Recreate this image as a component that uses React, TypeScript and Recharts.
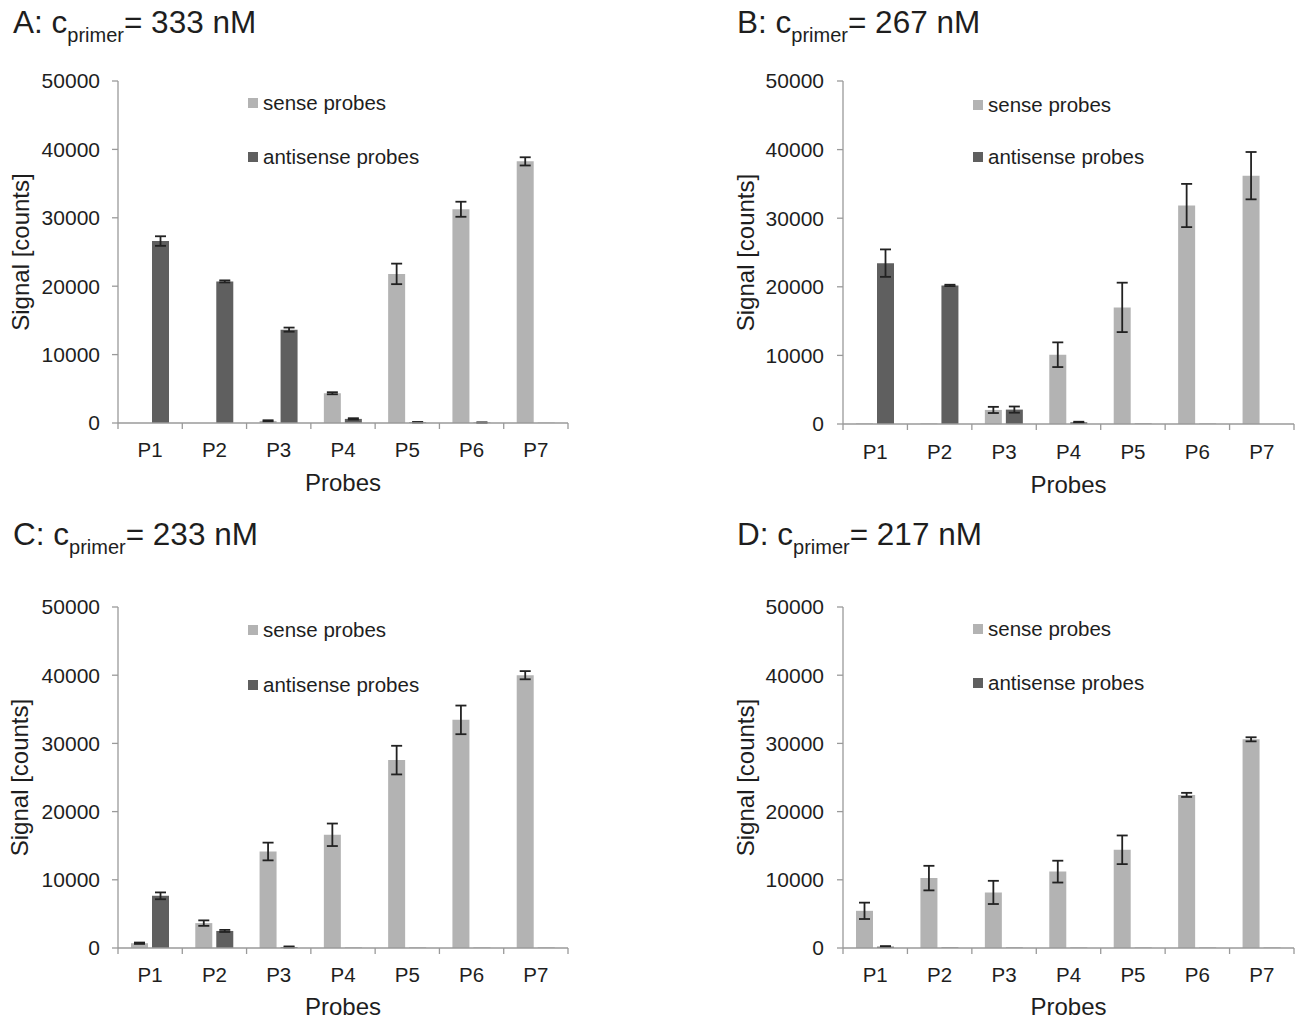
import React from 'react';
import { BarChart, Bar, XAxis, YAxis, ErrorBar, Legend, Label } from 'recharts';

// ---------- data ----------
const probes = ['P1', 'P2', 'P3', 'P4', 'P5', 'P6', 'P7'];
const yTicks = [0, 10000, 20000, 30000, 40000, 50000];
const seriesNames = ['sense probes', 'antisense probes'];

const senseA = [0, 0, 300, 4350, 21800, 31250, 38250];
const senseErrA = [null, null, 100, 150, 1500, 1100, 600];
const antiA = [26600, 20700, 13650, 600, 100, 60, 30];
const antiErrA = [700, 150, 300, 100, 50, 30, null];

const senseB = [80, 80, 2050, 10100, 17000, 31850, 36200];
const senseErrB = [null, null, 450, 1800, 3600, 3150, 3450];
const antiB = [23450, 20200, 2100, 250, 60, 40, 0];
const antiErrB = [2000, 100, 450, 80, null, null, null];

const senseC = [700, 3650, 14150, 16600, 27550, 33450, 40000];
const senseErrC = [100, 400, 1300, 1650, 2100, 2100, 600];
const antiC = [7650, 2500, 150, 50, 50, 50, 50];
const antiErrC = [500, 150, 80, null, null, null, null];

const senseD = [5450, 10250, 8150, 11200, 14400, 22450, 30600];
const senseErrD = [1200, 1800, 1700, 1600, 2100, 300, 300];
const antiD = [200, 80, 60, 50, 50, 50, 50];
const antiErrD = [80, null, null, null, null, null, null];

const titles = [
  { letter: 'A', conc: '333 nM' },
  { letter: 'B', conc: '267 nM' },
  { letter: 'C', conc: '233 nM' },
  { letter: 'D', conc: '217 nM' },
];

function buildRows(sense: number[], senseErr: (number | null)[], anti: number[], antiErr: (number | null)[]) {
  return probes.map((p, i) => ({
    probe: p,
    sense: sense[i],
    senseErr: senseErr[i],
    anti: anti[i],
    antiErr: antiErr[i],
  }));
}

const rowsA = buildRows(senseA, senseErrA, antiA, antiErrA);
const rowsB = buildRows(senseB, senseErrB, antiB, antiErrB);
const rowsC = buildRows(senseC, senseErrC, antiC, antiErrC);
const rowsD = buildRows(senseD, senseErrD, antiD, antiErrD);

// ---------- style ----------
const FONT = "'Liberation Sans', Arial, sans-serif";
const TEXT = '#1e1e1e';
const AXIS = '#9a9a9a';
const SENSE = '#b3b3b3';
const ANTI = '#5f5f5f';

type Cfg = {
  PL: number; PT: number; W: number; H: number;
  plotL: number; plotR: number; plotT: number; plotB: number;
  titleX: number; titleY: number;
  legendX: number; legendY1: number; legendY2: number;
  yLabelX: number; xLabelY: number; xTickY: number;
  barSize: number; yTickMargin: number;
};

const cfgA: Cfg = { PL: 0, PT: 0, W: 640, H: 510, plotL: 118, plotR: 568, plotT: 81, plotB: 423,
  titleX: 13, titleY: 33, legendX: 248, legendY1: 103, legendY2: 157, yLabelX: 20, xLabelY: 491, xTickY: 457, barSize: 17, yTickMargin: 12 };
const cfgB: Cfg = { PL: 720, PT: 0, W: 580, H: 510, plotL: 843, plotR: 1294, plotT: 81, plotB: 424,
  titleX: 737, titleY: 33, legendX: 973, legendY1: 105, legendY2: 157, yLabelX: 745, xLabelY: 493, xTickY: 459, barSize: 17, yTickMargin: 13 };
const cfgC: Cfg = { PL: 0, PT: 505, W: 640, H: 516, plotL: 118, plotR: 568, plotT: 607, plotB: 948,
  titleX: 13, titleY: 545, legendX: 248, legendY1: 630, legendY2: 685, yLabelX: 19, xLabelY: 1015, xTickY: 982, barSize: 17, yTickMargin: 12 };
const cfgD: Cfg = { PL: 720, PT: 505, W: 580, H: 516, plotL: 843, plotR: 1294, plotT: 607, plotB: 948,
  titleX: 737, titleY: 545, legendX: 973, legendY1: 629, legendY2: 683, yLabelX: 745, xLabelY: 1015, xTickY: 982, barSize: 17, yTickMargin: 13 };

function Panel({ cfg, rows, title }: { cfg: Cfg; rows: any[]; title: { letter: string; conc: string } }) {
  const { PL, PT, W, H, plotL, plotR, plotT, plotB } = cfg;
  const XH = 60;
  const margin = { top: plotT - PT, right: PL + W - plotR, left: 0, bottom: PT + H - plotB - XH };
  const bw = (plotR - plotL) / probes.length;
  const axisY = plotB - PT;

  const XTick = (props: any) => {
    const { x, payload, index } = props;
    return (
      <g>
        <line x1={x - bw / 2} x2={x - bw / 2} y1={axisY} y2={axisY + 6} stroke={AXIS} strokeWidth={1.3} />
        {index === probes.length - 1 && (
          <line x1={x + bw / 2} x2={x + bw / 2} y1={axisY} y2={axisY + 6} stroke={AXIS} strokeWidth={1.3} />
        )}
        <text x={x} y={cfg.xTickY - PT} textAnchor="middle" fontSize={20.5} fill={TEXT} fontFamily={FONT}>
          {payload.value}
        </text>
      </g>
    );
  };

  const legendContent = (props: any) => {
    const payload = [...(props.payload || [])].sort(
      (a: any, b: any) => seriesNames.indexOf(a.value) - seriesNames.indexOf(b.value)
    );
    const rowH = 24;
    return (
      <div style={{ fontFamily: FONT, fontSize: 20.5, color: TEXT }}>
        {payload.map((item: any, i: number) => (
          <div key={i} style={{ height: rowH, lineHeight: rowH + 'px', display: 'flex', alignItems: 'center', whiteSpace: 'nowrap',
            marginTop: i === 0 ? 0 : cfg.legendY2 - cfg.legendY1 - rowH }}>
            <span style={{ display: 'inline-block', width: 10, height: 10, background: item.color, marginRight: 5 }} />
            <span>{item.value}</span>
          </div>
        ))}
      </div>
    );
  };

  return (
    <div style={{ position: 'absolute', left: PL, top: PT, width: W, height: H }}>
      <BarChart width={W} height={H} data={rows} margin={margin} barGap={4} barSize={cfg.barSize}>
        <XAxis dataKey="probe" height={XH} axisLine={{ stroke: AXIS, strokeWidth: 1.3 }} tickLine={false}
          tick={(p: any) => <XTick {...p} />} interval={0}>
          <Label content={() => (
            <text x={(plotL + plotR) / 2 - PL} y={cfg.xLabelY - PT} textAnchor="middle" fontSize={24} fill={TEXT} fontFamily={FONT}>
              Probes
            </text>
          )} />
        </XAxis>
        <YAxis width={plotL - PL} domain={[0, 50000]} ticks={yTicks} interval={0}
          axisLine={{ stroke: AXIS, strokeWidth: 1.3 }} tickLine={{ stroke: AXIS, strokeWidth: 1.3 }} tickSize={6}
          tickMargin={cfg.yTickMargin} tick={{ fill: TEXT, fontSize: 21, fontFamily: FONT }}>
          <Label content={() => {
            const cx = cfg.yLabelX - PL;
            const cy = (plotT + plotB) / 2 - PT;
            return (
              <text x={cx} y={cy} transform={`rotate(-90 ${cx} ${cy})`} textAnchor="middle" dominantBaseline="central"
                fontSize={24} fill={TEXT} fontFamily={FONT}>
                Signal [counts]
              </text>
            );
          }} />
        </YAxis>
        <Legend layout="vertical" align="center" verticalAlign="middle" content={legendContent}
          wrapperStyle={{ left: cfg.legendX - PL, top: cfg.legendY1 - PT - 12, width: 260 }} />
        <Bar dataKey="sense" name={seriesNames[0]} fill={SENSE} isAnimationActive={false}>
          <ErrorBar dataKey="senseErr" width={5.5} stroke="#222" strokeWidth={1.8} direction="y" />
        </Bar>
        <Bar dataKey="anti" name={seriesNames[1]} fill={ANTI} isAnimationActive={false}>
          <ErrorBar dataKey="antiErr" width={5.5} stroke="#222" strokeWidth={1.8} direction="y" />
        </Bar>
      </BarChart>
      <svg style={{ position: 'absolute', left: 0, top: 0, pointerEvents: 'none' }} width={W} height={70}>
        <text x={cfg.titleX - PL} y={cfg.titleY - PT} fontFamily={FONT} fontSize={31.5} fill={TEXT}>
          {title.letter}: c
          <tspan fontSize={20} dy={9}>primer</tspan>
          <tspan dy={-9}>= {title.conc}</tspan>
        </text>
      </svg>
    </div>
  );
}

export default function App() {
  return (
    <div style={{ position: 'absolute', left: 0, top: 0, width: 1300, height: 1021, background: '#fff', overflow: 'hidden' }}>
      <Panel cfg={cfgA} rows={rowsA} title={titles[0]} />
      <Panel cfg={cfgB} rows={rowsB} title={titles[1]} />
      <Panel cfg={cfgC} rows={rowsC} title={titles[2]} />
      <Panel cfg={cfgD} rows={rowsD} title={titles[3]} />
    </div>
  );
}
